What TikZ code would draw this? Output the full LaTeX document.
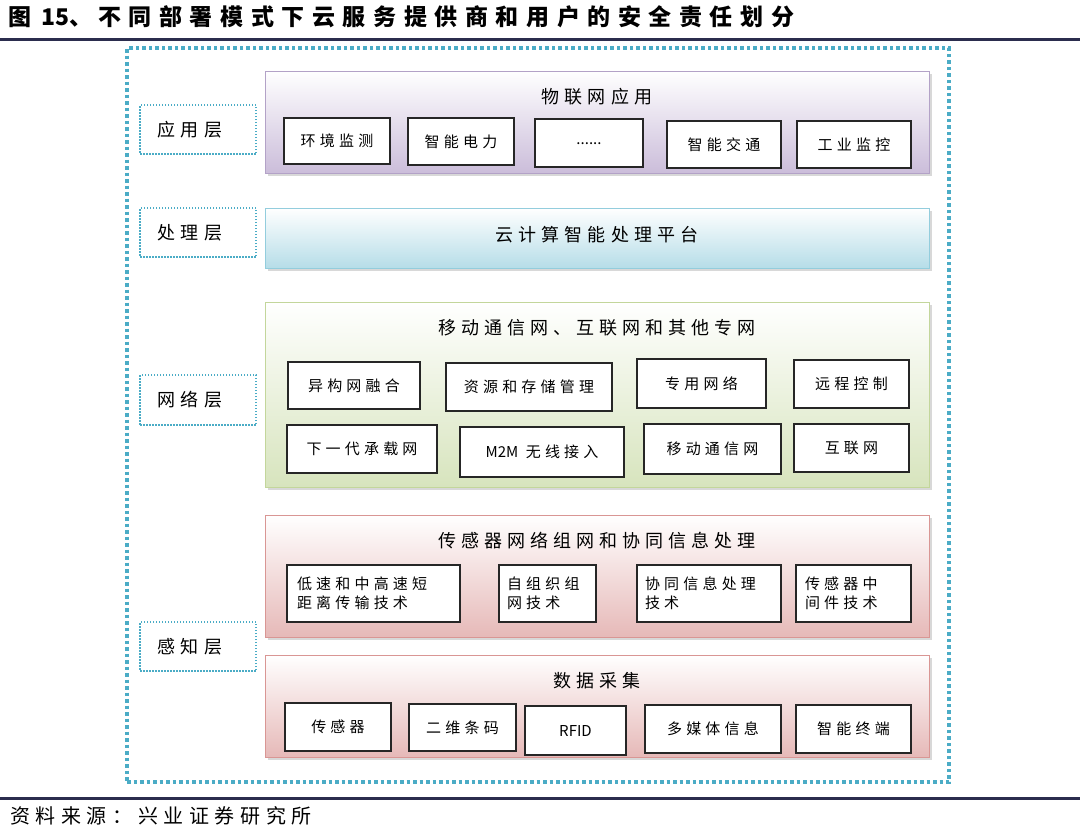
\documentclass[tikz,border=0pt]{standalone}
\usepackage{fontspec}
\setmainfont{Noto Sans CJK SC}
\newfontfamily\myspaced[LetterSpace=28]{Noto Sans CJK SC}
\newfontfamily\mytitlef[LetterSpace=33]{Noto Sans CJK SC}
\newfontfamily\myplain{Noto Sans CJK SC}
\usetikzlibrary{shadows}
\definecolor{tealc}{HTML}{4BACC6}
\definecolor{navyc}{HTML}{2B2D4E}
\definecolor{purB}{HTML}{B3A2C7}
\definecolor{purF}{HTML}{CBBDDA}
\definecolor{bluB}{HTML}{93CDDD}
\definecolor{bluF}{HTML}{B6DDE8}
\definecolor{grnB}{HTML}{C3D69B}
\definecolor{grnF}{HTML}{D7E4BD}
\definecolor{pnkB}{HTML}{D99694}
\definecolor{pnkF}{HTML}{E6B9B8}
\tikzset{
  panel/.style={draw, line width=1pt, top color=white, inner sep=0pt,
    drop shadow={shadow xshift=3pt, shadow yshift=-3pt, fill=black!30}},
  ibox/.style={draw=black!85, line width=1.3pt, fill=white, inner sep=0pt,
    font=\myspaced\fontsize{15}{19}\selectfont},
  lbox/.style={draw=tealc, line width=1.1pt, dash pattern=on 1.5pt off 1.5pt, inner sep=0pt,
    minimum width=116pt, minimum height=49pt},
  ltext/.style={font=\myspaced\fontsize{18}{22}\selectfont, inner sep=0pt},
  ptitle/.style={font=\myspaced\fontsize{18}{22}\selectfont, inner sep=0pt},
}
\begin{document}
\begin{tikzpicture}[x=1pt,y=-1pt]
\useasboundingbox (0,0) rectangle (1080,838);
% title
\node[anchor=west, inner sep=0pt, font=\bfseries\fontsize{23}{26}\selectfont] (title) at (8,17) {{\myplain\bfseries 图\hspace{10pt}15、}\hspace{6pt}{\mytitlef\bfseries 不同部署模式下云服务提供商和用户的安全责任划分}};
\draw[navyc, line width=3pt] (0,39) -- (1080,39);
% outer frame
\node[draw=tealc, line width=4pt, dash pattern=on 3.5pt off 3pt, minimum width=822pt, minimum height=734pt, inner sep=0pt] (frame) at (538,415) {};
% layer labels
\node[lbox] (lapp) at (198,129.5) {};
\node[ltext] at (190,129.5) {应用层};
\node[lbox] (lproc) at (198,232.5) {};
\node[ltext] at (190,232.5) {处理层};
\node[lbox, minimum height=50pt] (lnet) at (198,400) {};
\node[ltext] at (190,400) {网络层};
\node[lbox] (lsen) at (198,646.5) {};
\node[ltext] at (190,646.5) {感知层};
% application panel
\node[panel, draw=purB, bottom color=purF, minimum width=664pt, minimum height=102pt] (app) at (597,122) {};
\node[ptitle] (appt) at (597,97) {物联网应用};
\node[ibox, minimum width=106pt, minimum height=46pt] (a1) at (337,141) {环境监测};
\node[ibox, minimum width=106pt, minimum height=47pt] (a2) at (461,141.5) {智能电力};
\node[ibox, minimum width=108pt, minimum height=48pt, font=\myplain\fontsize{15}{19}\selectfont] (a3) at (589,143) {\raisebox{-3pt}{......}};
\node[ibox, minimum width=114pt, minimum height=47pt] (a4) at (724,144.5) {智能交通};
\node[ibox, minimum width=114pt, minimum height=47pt] (a5) at (854,144.5) {工业监控};
% processing panel
\node[panel, draw=bluB, bottom color=bluF, minimum width=664pt, minimum height=60pt] (proc) at (597,238) {};
\node[ptitle] (proct) at (597,235) {云计算智能处理平台};
% network panel
\node[panel, draw=grnB, bottom color=grnF, minimum width=664pt, minimum height=185pt] (net) at (597,394.5) {};
\node[ptitle] (nett) at (597,328) {移动通信网、互联网和其他专网};
\node[ibox, minimum width=132pt, minimum height=47pt] (n1) at (354,385.5) {异构网融合};
\node[ibox, minimum width=166pt, minimum height=48pt] (n2) at (529,387) {资源和存储管理};
\node[ibox, minimum width=129pt, minimum height=49pt] (n3) at (701.5,383.5) {专用网络};
\node[ibox, minimum width=115pt, minimum height=48pt] (n4) at (851.5,384) {远程控制};
\node[ibox, minimum width=150pt, minimum height=48pt] (n5) at (362,449) {下一代承载网};
\node[ibox, minimum width=164pt, minimum height=50pt] (n6) at (542,452) {{\myplain M2M} 无线接入};
\node[ibox, minimum width=137pt, minimum height=50pt] (n7) at (712.5,449) {移动通信网};
\node[ibox, minimum width=115pt, minimum height=48pt] (n8) at (851.5,448) {互联网};
% sensor network panel
\node[panel, draw=pnkB, bottom color=pnkF, minimum width=664pt, minimum height=122pt] (sen) at (597,576) {};
\node[ptitle] (sent) at (597,541) {传感器网络组网和协同信息处理};
\node[ibox, minimum width=173pt, minimum height=57pt, text width=153pt, align=left] (s1) at (373.5,593.5) {低速和中高速短\\距离传输技术};
\node[ibox, minimum width=97pt, minimum height=57pt, text width=81pt, align=left] (s2) at (547.5,593.5) {自组织组\\网技术};
\node[ibox, minimum width=144pt, minimum height=57pt, text width=128pt, align=left] (s3) at (709,593.5) {协同信息处理\\技术};
\node[ibox, minimum width=115pt, minimum height=57pt, text width=97pt, align=left] (s4) at (853.5,593.5) {传感器中\\间件技术};
% data collection panel
\node[panel, draw=pnkB, bottom color=pnkF, minimum width=664pt, minimum height=102pt] (dat) at (597,706) {};
\node[ptitle] (datt) at (597,681) {数据采集};
\node[ibox, minimum width=106pt, minimum height=48pt] (d1) at (338,727) {传感器};
\node[ibox, minimum width=107pt, minimum height=47pt] (d2) at (462.5,727.5) {二维条码};
\node[ibox, minimum width=101pt, minimum height=49pt, font=\myplain\fontsize{15}{19}\selectfont] (d3) at (575.5,730.5) {RFID};
\node[ibox, minimum width=136pt, minimum height=48pt] (d4) at (713,729) {多媒体信息};
\node[ibox, minimum width=115pt, minimum height=48pt] (d5) at (853.5,729) {智能终端};
% source
\draw[navyc, line width=3pt] (0,798.5) -- (1080,798.5);
\node[anchor=west, inner sep=0pt, font=\myspaced\fontsize{20}{24}\selectfont] (src) at (10,816) {资料来源：兴业证券研究所};
\end{tikzpicture}
\end{document}
